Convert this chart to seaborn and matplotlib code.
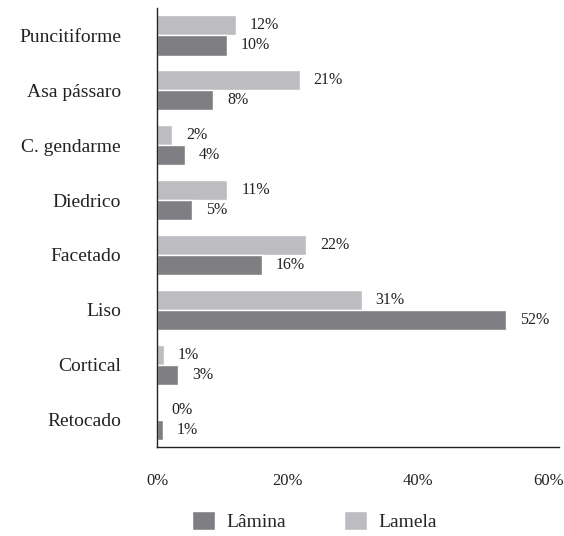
import pandas as pd
import matplotlib
matplotlib.use("Agg")
import matplotlib.pyplot as plt
import seaborn as sns
from matplotlib.patches import Patch

categories = ["Puncitiforme", "Asa pássaro", "C. gendarme", "Diedrico",
              "Facetado", "Liso", "Cortical", "Retocado"]
lamina = [10.7, 8.6, 4.3, 5.4, 16.1, 53.6, 3.2, 0.9]
lamela = [12.1, 21.9, 2.3, 10.8, 22.9, 31.4, 1.1, 0.0]
lamina_labels = ["10%", "8%", "4%", "5%", "16%", "52%", "3%", "1%"]
lamela_labels = ["12%", "21%", "2%", "11%", "22%", "31%", "1%", "0%"]
x_ticks = [0, 20, 40, 60]

COL_LAMINA = "#7f7f83"
COL_LAMELA = "#bdbdc1"

df = pd.DataFrame({
    "Tipo": ["Lamela"] * len(categories) + ["Lâmina"] * len(categories),
    "Categoria": categories * 2,
    "Valor": lamela + lamina,
})

sns.set_style("white")
plt.rcParams["font.family"] = ["Liberation Serif", "DejaVu Serif"]

fig = plt.figure(figsize=(5.64, 5.36), dpi=100)
ax = fig.add_axes([0.2784, 0.166, 0.7128, 0.819])

sns.barplot(data=df, x="Valor", y="Categoria", hue="Tipo",
            hue_order=["Lamela", "Lâmina"], order=categories,
            palette={"Lamela": COL_LAMELA, "Lâmina": COL_LAMINA},
            width=0.73, orient="h", ax=ax, legend=False, saturation=1)

# rótulos de percentagem ao lado de cada barra
for cont, labs in zip(ax.containers, [lamela_labels, lamina_labels]):
    ax.bar_label(cont, labels=labs, padding=10, fontsize=11.5, color="#222222")

ax.set_xlim(0, 61.66)
ax.set_xticks(x_ticks)
ax.set_xticklabels([f"{t}%" for t in x_ticks], fontsize=12, color="#222222")
ax.tick_params(axis="x", length=0, pad=19)
ax.tick_params(axis="y", length=0, pad=26, labelsize=14, labelcolor="#222222")
ax.set_xlabel("")
ax.set_ylabel("")

for s in ["top", "right"]:
    ax.spines[s].set_visible(False)
for s in ["left", "bottom"]:
    ax.spines[s].set_color("#222222")
    ax.spines[s].set_linewidth(1.0)

handles = [Patch(facecolor=COL_LAMINA, label="Lâmina"),
           Patch(facecolor=COL_LAMELA, label="Lamela")]
fig.legend(handles=handles, loc="center", bbox_to_anchor=(0.558, 0.028),
           ncol=2, frameon=False, fontsize=14, handlelength=1.15,
           handleheight=1.15, handletextpad=0.6, columnspacing=3.0)

fig.savefig("out.png", dpi=100)
